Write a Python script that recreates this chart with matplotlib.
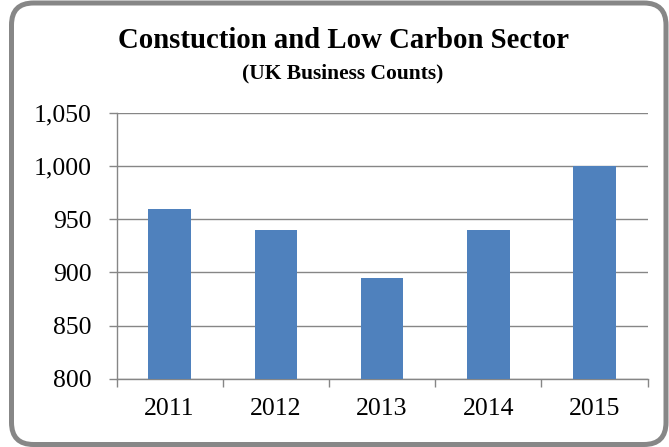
import matplotlib
matplotlib.use("Agg")
import matplotlib.pyplot as plt
from matplotlib.patches import FancyBboxPatch
from matplotlib.transforms import IdentityTransform
from matplotlib.ticker import FuncFormatter

years = ["2011", "2012", "2013", "2014", "2015"]
counts = [960, 940, 895, 940, 1000]
title = "Constuction and Low Carbon Sector"
subtitle = "(UK Business Counts)"

W, H = 669, 447
fig = plt.figure(figsize=(W / 100, H / 100), dpi=100)
fig.patch.set_facecolor("white")

# rounded outer frame in pixel coordinates
bx0, bx1, by_top, by_bot = 11.5, 666.0, 3.0, 444.5
border = FancyBboxPatch((bx0, H - by_bot), bx1 - bx0, by_bot - by_top,
                        boxstyle="round,pad=0,rounding_size=22",
                        transform=IdentityTransform(), facecolor="none",
                        edgecolor="#878787", linewidth=3.6, zorder=-1)
fig.patches.append(border)

ax = fig.add_axes([116.5 / W, 1 - 378.7 / H, (647.6 - 116.5) / W, (378.7 - 113) / H])
ax.set_facecolor("none")
grid_c = "#868686"
x = list(range(len(years)))
ax.bar(x, counts, width=0.4, color="#4F81BD", zorder=3)
ax.set_xlim(-0.5, len(years) - 0.5)
ax.set_ylim(800, 1050)
ax.set_yticks([800, 850, 900, 950, 1000, 1050])
ax.yaxis.set_major_formatter(FuncFormatter(lambda v, p: f"{int(v):,}"))
ax.yaxis.grid(True, color=grid_c, linewidth=1.0, zorder=1)
ax.set_axisbelow(True)
for s in ["top", "right"]:
    ax.spines[s].set_visible(False)
for s in ["left", "bottom"]:
    ax.spines[s].set_color(grid_c)
    ax.spines[s].set_linewidth(1.0)

ax.set_xticks([i - 0.5 for i in range(len(years) + 1)])
ax.set_xticklabels([""] * (len(years) + 1))
ax.set_xticks(x, minor=True)
ax.set_xticklabels(years, minor=True)
ax.tick_params(axis="x", which="major", length=5.5, color=grid_c, width=1.0)
ax.tick_params(axis="x", which="minor", length=0, pad=14)
ax.tick_params(axis="y", length=6, color=grid_c, width=1.0, pad=12)
for lab in ax.get_yticklabels() + ax.get_xticklabels(minor=True):
    lab.set_fontfamily("Liberation Serif")
    lab.set_fontsize(18.5)
    lab.set_color("black")

fig.text(343 / W, 1 - 48 / H, title, ha="center", va="baseline",
         fontfamily="Liberation Serif", fontweight="bold", fontsize=20.7)
fig.text(343 / W, 1 - 78 / H, subtitle, ha="center", va="baseline",
         fontfamily="Liberation Serif", fontweight="bold", fontsize=15.5)

fig.savefig("out.png", dpi=100, facecolor="white")
